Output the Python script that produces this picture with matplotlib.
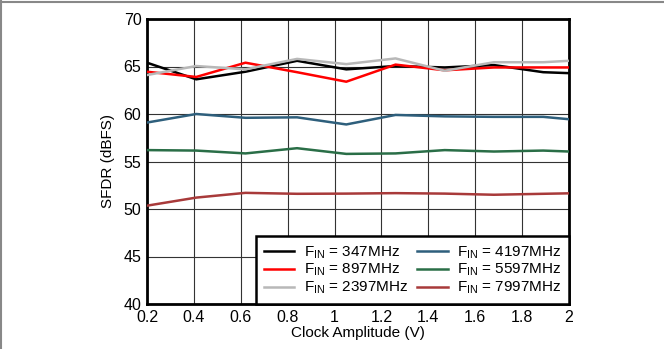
import matplotlib
matplotlib.use("Agg")
import matplotlib.pyplot as plt
from matplotlib.lines import Line2D

plt.rcParams['font.family'] = ['Liberation Sans', 'DejaVu Sans']

clock_v = [0.2, 0.41, 0.62, 0.84, 1.05, 1.26, 1.47, 1.68, 1.89, 2.0]
sfdr_347 = [65.4, 63.65, 64.45, 65.6, 64.7, 65.05, 64.9, 65.15, 64.4, 64.3]
sfdr_897 = [64.45, 63.9, 65.4, 64.4, 63.4, 65.2, 64.6, 64.9, 64.9, 64.9]
sfdr_2397 = [64.1, 65.05, 64.7, 65.8, 65.25, 65.85, 64.55, 65.45, 65.45, 65.6]
sfdr_4197 = [59.1, 60.0, 59.6, 59.65, 58.9, 59.9, 59.75, 59.7, 59.7, 59.45]
sfdr_5597 = [56.2, 56.15, 55.85, 56.4, 55.8, 55.85, 56.2, 56.05, 56.15, 56.05]
sfdr_7997 = [50.35, 51.2, 51.7, 51.6, 51.62, 51.67, 51.62, 51.5, 51.6, 51.65]

labels = [r'$\mathregular{F_{IN}}$ = 347MHz', r'$\mathregular{F_{IN}}$ = 897MHz',
          r'$\mathregular{F_{IN}}$ = 2397MHz', r'$\mathregular{F_{IN}}$ = 4197MHz',
          r'$\mathregular{F_{IN}}$ = 5597MHz', r'$\mathregular{F_{IN}}$ = 7997MHz']
series = [sfdr_347, sfdr_897, sfdr_2397, sfdr_4197, sfdr_5597, sfdr_7997]
colors = ['#000000', '#ff0000', '#b8b8b8', '#2e5f7c', '#2a6e47', '#a83a3a']
xticks = [0.2, 0.4, 0.6, 0.8, 1.0, 1.2, 1.4, 1.6, 1.8, 2.0]
xticklabels = ['0.2', '0.4', '0.6', '0.8', '1', '1.2', '1.4', '1.6', '1.8', '2']
yticks = [40, 45, 50, 55, 60, 65, 70]

fig = plt.figure(figsize=(6.64, 3.49), dpi=100)
ax = fig.add_axes([147/664, 1-304/349, (569-147)/664, (304-19)/349])

for y, c, l in zip(series, colors, labels):
    ax.plot(clock_v, y, color=c, lw=1.8, label=l, zorder=3)

ax.set_xlim(0.2, 2.0)
ax.set_ylim(40, 70)
ax.set_xticks(xticks)
ax.set_xticklabels(xticklabels)
ax.set_yticks(yticks)
ax.grid(True, color='#333333', lw=0.8, zorder=1)
ax.tick_params(length=0, labelsize=11.5, pad=4)
for s in ax.spines.values():
    s.set_linewidth(2)
    s.set_color('black')
ax.set_xlabel('Clock Amplitude (V)', fontsize=11, labelpad=1)
ax.set_ylabel('SFDR (dBFS)', fontsize=11, labelpad=6)

leg = ax.legend(ncol=2, loc='lower right', fontsize=11, frameon=True, fancybox=False,
                edgecolor='black', framealpha=1, borderpad=0.5, labelspacing=0.1,
                handlelength=2.0, handletextpad=0.6, columnspacing=0.6,
                borderaxespad=0.0)
leg.get_frame().set_linewidth(1.8)

fig.add_artist(Line2D([0, 1], [1-1.5/349, 1-1.5/349], transform=fig.transFigure,
                      color='#888888', lw=1.5))
fig.add_artist(Line2D([0.75/664, 0.75/664], [0, 1], transform=fig.transFigure,
                      color='#888888', lw=1.5))

fig.savefig('out.png', dpi=100)
